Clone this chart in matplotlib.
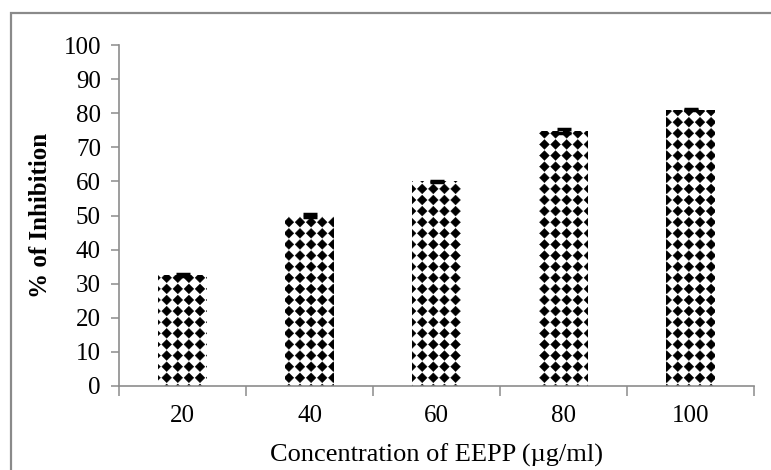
import matplotlib

matplotlib.use("Agg")
import matplotlib.hatch as mhatch
import matplotlib.pyplot as plt
import numpy as np
from matplotlib.patches import Rectangle
from matplotlib.path import Path

concentrations = ["20", "40", "60", "80", "100"]
inhibition = [32.5, 50.0, 60.0, 74.8, 81.0]
inhibition_err = [0.3, 0.4, 0.2, 0.5, 0.1]
y_ticks = [0, 10, 20, 30, 40, 50, 60, 70, 80, 90, 100]


class DiamondGrid(mhatch.HatchPatternBase):
    """Square grid of filled diamonds, used in place of the '*' hatch."""

    def __init__(self, hatch, density):
        self.num_rows = int(hatch.count("*") * density * 1.5)
        self.num_vertices = (self.num_rows + 1) ** 2 * 5

    def set_vertices_and_codes(self, vertices, codes):
        n = self.num_rows
        r = 0.44 / n
        shape = np.array([[0, r], [r, 0], [0, -r], [-r, 0], [0, r]])
        k = 0
        for yc in np.linspace(0, 1, n + 1):
            for xc in np.linspace(0, 1, n + 1):
                vertices[k:k + 5] = shape + (xc, yc)
                codes[k:k + 5] = [Path.MOVETO, Path.LINETO, Path.LINETO,
                                  Path.LINETO, Path.CLOSEPOLY]
                k += 5


mhatch._hatch_types[mhatch._hatch_types.index(mhatch.Stars)] = DiamondGrid

plt.rcParams["font.family"] = ["Liberation Serif", "DejaVu Serif"]
plt.rcParams["hatch.linewidth"] = 0.3
plt.rcParams["hatch.color"] = "black"

spine_col = "#8c8c8c"

fig = plt.figure(figsize=(7.71, 4.70), dpi=100)
ax = fig.add_axes([119 / 771, 1 - 386 / 470, 635 / 771, 341 / 470])

x = np.arange(1, len(concentrations) + 1)
ax.bar(x, inhibition, width=0.38, color="white", edgecolor="black",
       linewidth=0, hatch="*")
ax.errorbar(x, inhibition, yerr=inhibition_err, fmt="none", ecolor="black",
            elinewidth=1.5, capsize=5, capthick=2.5)

ax.set_xlim(0.5, len(concentrations) + 0.5)
ax.set_ylim(0, 100)
ax.set_yticks(y_ticks)
ax.set_xticks(x)
ax.set_xticklabels(concentrations)
ax.set_xticks(np.arange(0.5, len(concentrations) + 1), minor=True)

for side in ("top", "right"):
    ax.spines[side].set_visible(False)
for side in ("left", "bottom"):
    ax.spines[side].set_color(spine_col)
    ax.spines[side].set_linewidth(1.2)

ax.tick_params(axis="y", direction="out", length=6, width=1.1,
               color=spine_col, pad=7, labelsize=18)
ax.tick_params(axis="x", which="major", length=0, pad=14, labelsize=18)
ax.tick_params(axis="x", which="minor", direction="out", length=7,
               width=1.1, color=spine_col)

ax.set_ylabel("% of Inhibition", fontsize=18, fontweight="bold")
ax.yaxis.set_label_coords(-0.1055, 0.5)
ax.set_xlabel("Concentration of EEPP (\u00b5g/ml)", fontsize=19)
ax.xaxis.set_label_coords(0.5, -0.168)

fig.patches.append(Rectangle((10.5 / 771, -0.05), 1.2, 1.05 - 13 / 470,
                             transform=fig.transFigure, fill=False,
                             edgecolor="#8a8a8a", linewidth=1.6))

fig.savefig("out.png", dpi=100)
